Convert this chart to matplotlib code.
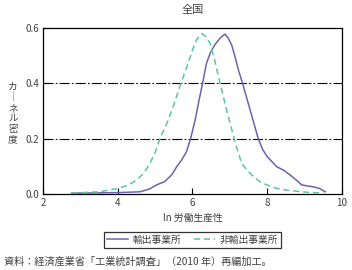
import matplotlib.pyplot as plt

plt.rcParams['font.family'] = ['Noto Sans CJK JP', 'DejaVu Sans']

# 輸出事業所
x_exp = [2.77, 4.0, 4.6, 4.85, 5.04, 5.26, 5.45, 5.58, 5.72, 5.84, 5.95, 6.07, 6.17,
         6.27, 6.37, 6.47, 6.6, 6.75, 6.87, 6.95, 7.05, 7.14, 7.23, 7.34, 7.55,
         7.76, 7.88, 8.0, 8.25, 8.45, 8.61, 8.78, 8.92, 9.08, 9.23, 9.4, 9.55]
y_exp = [0.003, 0.005, 0.008, 0.018, 0.033, 0.045, 0.07, 0.099, 0.125, 0.153, 0.20, 0.267, 0.335,
         0.40, 0.47, 0.508, 0.54, 0.565, 0.578, 0.565, 0.538, 0.495, 0.448, 0.40, 0.30,
         0.20, 0.16, 0.135, 0.099, 0.085, 0.069, 0.05, 0.033, 0.029, 0.026, 0.02, 0.008]

# 非輸出事業所
x_non = [2.77, 3.5, 4.01, 4.3, 4.5, 4.7, 4.86, 5.0, 5.13, 5.35, 5.52, 5.69, 5.85, 6.0,
         6.12, 6.25, 6.35, 6.47, 6.6, 6.74, 6.9, 7.09, 7.2, 7.32, 7.48, 7.63,
         7.8, 7.99, 8.25, 8.52, 9.0, 9.5]
y_non = [0.003, 0.008, 0.02, 0.033, 0.05, 0.075, 0.11, 0.15, 0.20, 0.267, 0.33, 0.40, 0.46, 0.52,
         0.56, 0.58, 0.57, 0.545, 0.48, 0.40, 0.31, 0.213, 0.16, 0.11, 0.083, 0.063,
         0.045, 0.033, 0.02, 0.014, 0.007, 0.003]

x_ticks = [2, 4, 6, 8, 10]
y_ticks = [0.0, 0.2, 0.4, 0.6]

txt = '#404040'

fig = plt.figure(figsize=(3.52, 2.70), dpi=100)
ax = fig.add_axes([0.122, 0.2815, 0.8496, 0.6148])

ax.plot(x_exp, y_exp, color='#6a64ad', lw=1.1, label='輸出事業所')
ax.plot(x_non, y_non, color='#5cc4a6', lw=1.1, ls=(0, (4, 2.5)), label='非輸出事業所')

for yv in [0.2, 0.4]:
    ax.axhline(yv, color='black', lw=0.8, ls=(0, (9, 2, 1.5, 2)), zorder=0)

ax.set_xlim(2, 10)
ax.set_ylim(0, 0.6)
ax.set_xticks(x_ticks)
ax.set_yticks(y_ticks)
ax.set_xticklabels([str(v) for v in x_ticks])
ax.set_yticklabels(['%.1f' % v for v in y_ticks])
ax.tick_params(direction='in', length=4, width=0.8, labelsize=7, labelcolor=txt, pad=3)
for s in ax.spines.values():
    s.set_linewidth(0.9)

ax.set_xlabel('ln 労働生産性', fontsize=7, color=txt, labelpad=3)

# 縦書きのラベル (1文字ずつ配置)
for i, ch in enumerate('カ｜ネル密度'):
    fig.text(0.037, 1 - (87 + i * 10.4) / 270, ch, fontsize=7, color=txt,
             ha='center', va='center')

fig.text(0.547, 0.962, '全国', fontsize=8, color=txt, ha='center', va='center')

leg = fig.legend(loc='center', bbox_to_anchor=(0.547, 0.112), ncol=2, fontsize=7,
                 frameon=True, fancybox=False, edgecolor='black', handlelength=2.2,
                 columnspacing=1.2, handletextpad=0.5, borderpad=0.3)
leg.get_frame().set_linewidth(0.9)
for t in leg.get_texts():
    t.set_color(txt)

fig.text(0.01, 0.03, '資料：経済産業省「工業統計調査」（2010 年）再編加工。', fontsize=7.3,
         color=txt, ha='left', va='center')

fig.savefig('out.png', dpi=100)
